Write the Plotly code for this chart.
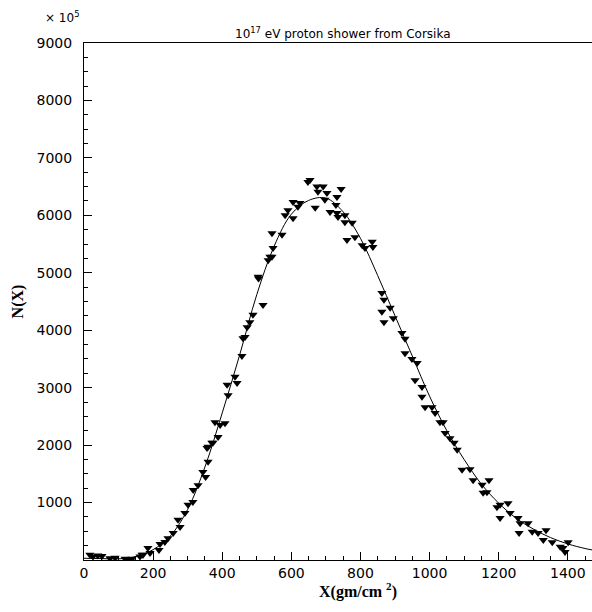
import plotly.graph_objects as go

# ---- data ----
pts_x = [17, 26, 40, 52, 75, 90, 119, 127, 139, 162, 171,
         168, 185, 191, 217, 220, 234, 243, 258, 272, 278, 292, 301, 315, 316, 330,
         344, 352, 356, 359, 359, 370, 373, 379, 388, 394, 408,
         414, 417, 437, 443, 457, 460, 466, 472, 480, 489, 504, 505, 518, 533, 538, 544, 547,
         544, 573, 582, 590, 605, 605, 619, 625, 648, 654, 669, 674, 677, 692, 697, 703,
         712, 729, 732, 732, 735, 744, 755, 755, 761, 776, 784, 805, 813, 834, 836,
         862, 862, 868, 868, 886, 895, 920, 929, 929, 949, 958, 964, 978, 978, 987,
         1007, 1016, 1030, 1039, 1045, 1059, 1071, 1080, 1094, 1117, 1126, 1152, 1155,
         1166, 1172, 1195, 1204, 1204, 1227, 1233, 1256, 1259, 1262, 1285, 1297, 1314,
         1329, 1337, 1355, 1378, 1386, 1392, 1401]
pts_y = [90, 60, 80, 70, 30, 40, 20, 10, 20, 60, 90,
         90, 210, 120, 175, 280, 315, 380, 470, 700, 575, 820, 960, 1010, 1220, 1300,
         1530, 1445, 1950, 1710, 1970, 2040, 2040, 2400, 2140, 2350, 2380,
         3050, 2870, 3190, 3080, 3550, 3860, 3880, 4050, 4140, 4270, 4930, 4900, 4440, 5220, 5280, 5280, 5430,
         5690, 5660, 6000, 6090, 5950, 6230, 6150, 6215, 6580, 6615, 6130, 6500, 6410, 6500, 6270, 6390,
         6060, 6180, 6320, 6040, 5970, 6460, 6000, 5880, 5570, 5870, 5620, 5480, 5430, 5540, 5450,
         4650, 4320, 4530, 4140, 4390, 4210, 3950, 3850, 3600, 3500, 3130, 3430, 3010, 2840, 2660,
         2660, 2560, 2400, 2400, 2210, 2120, 2040, 1920, 1570, 1580, 1390, 1310, 1170,
         1180, 1390, 920, 960, 730, 990, 820, 730, 470, 640, 640, 490, 470,
         350, 520, 310, 230, 210, 140, 310]

fit_x = [0, 50, 100, 150, 200, 250, 300, 350, 400, 450, 500, 550, 600, 650, 700,
         750, 800, 850, 900, 950, 1000, 1050, 1100, 1150, 1200, 1250, 1300, 1350,
         1400, 1450, 1475]
fit_y = [30, 25, 20, 60, 180, 420, 880, 1620, 2560, 3560, 4620, 5460, 6020, 6260, 6300,
         6060, 5600, 4950, 4250, 3550, 2850, 2250, 1750, 1320, 990, 730, 540, 390,
         280, 200, 170]

x_ticks = [0, 200, 400, 600, 800, 1000, 1200, 1400]
y_ticks = [1000, 2000, 3000, 4000, 5000, 6000, 7000, 8000, 9000]

fig = go.Figure()
fig.add_trace(go.Scatter(x=fit_x, y=fit_y, mode="lines",
                         line=dict(color="black", width=1, shape="spline"),
                         showlegend=False, hoverinfo="skip"))
fig.add_trace(go.Scatter(x=pts_x, y=pts_y, mode="markers",
                         marker=dict(symbol="triangle-down", size=8, color="black"),
                         showlegend=False))

tickfont = dict(family="DejaVu Sans", size=14, color="black")
fig.update_layout(
    width=592, height=612,
    margin=dict(l=84, r=0, t=43, b=52),
    paper_bgcolor="white", plot_bgcolor="white",
    xaxis=dict(range=[0, 1470], tickmode="array", tickvals=x_ticks,
               ticks="inside", ticklen=8, tickcolor="black", tickwidth=1,
               minor=dict(ticks="inside", dtick=50, tick0=0, ticklen=4, tickcolor="black"),
               showline=True, linecolor="black", linewidth=1, mirror=True,
               showgrid=False, zeroline=False, tickfont=tickfont),
    yaxis=dict(range=[0, 9000], tickmode="array", tickvals=y_ticks,
               ticks="inside", ticklen=8, tickcolor="black", tickwidth=1,
               minor=dict(ticks="inside", dtick=250, tick0=0, ticklen=4, tickcolor="black"),
               showline=True, linecolor="black", linewidth=1,
               showgrid=False, zeroline=False, tickfont=tickfont,
               ticklabelstandoff=8,
               title=dict(text="<b>N(X)</b>",
                          font=dict(family="Liberation Serif", size=16, color="black"),
                          standoff=8)),
    annotations=[
        dict(text="10<sup>17</sup> eV proton shower from Corsika", xref="paper", yref="paper",
             x=0.51, y=1.0, yshift=10, xanchor="center", yanchor="middle", showarrow=False,
             font=dict(family="DejaVu Sans", size=12, color="black")),
        dict(text="× 10<sup>5</sup>", xref="paper", yref="paper",
             x=-0.08, y=1.0, yshift=26, xanchor="left", yanchor="middle", showarrow=False,
             font=dict(family="DejaVu Sans", size=12, color="black")),
        dict(text="<b>X(gm/cm <sup>2</sup>)</b>", xref="paper", yref="paper",
             x=0.539, y=0.0, yshift=-30, xanchor="center", yanchor="middle", showarrow=False,
             font=dict(family="Liberation Serif", size=16, color="black")),
    ],
)
fig.write_html("out.html")
